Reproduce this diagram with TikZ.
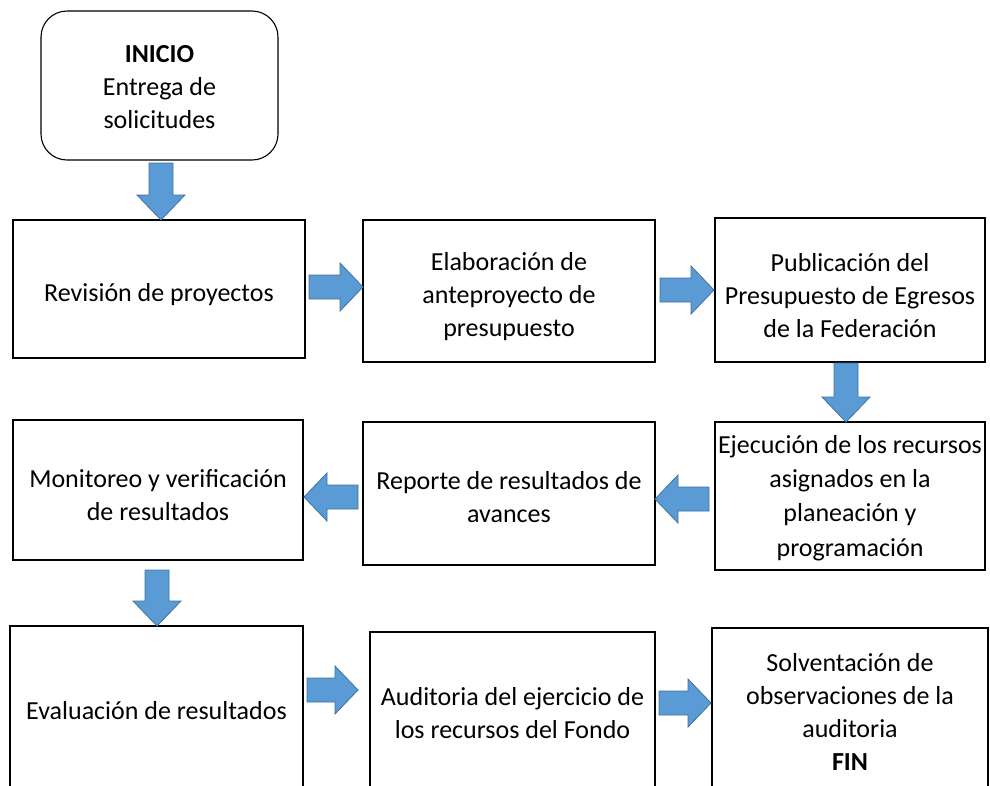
\documentclass[tikz,border=0pt]{standalone}
\usepackage{fontspec}
\setmainfont{Carlito}
\begin{document}
\begin{tikzpicture}[x=1pt,y=-1pt,
  box/.style={draw=black,line width=1.1pt,fill=white,inner sep=0pt},
  txt/.style={align=center,inner sep=0pt,font=\fontsize{26}{33}\selectfont},
  arr/.style={fill={rgb,255:red,91;green,155;blue,213},draw={rgb,255:red,65;green,113;blue,156},line width=0.8pt}]
\useasboundingbox (0,0) rectangle (990,785);
\clip (0,0) rectangle (990,785);
\node[box,rounded corners=26pt,minimum width=237,minimum height=149] (s) at (159.5,85.5) {};
\node[txt] (ts) at ([yshift=-2pt]s.center) {\textbf{INICIO}\\Entrega de\\solicitudes};
\node[box,minimum width=292,minimum height=138] (b1) at (159,289) {};
\node[txt] (t1) at ([yshift=-6pt]b1.center) {Revisión de proyectos};
\node[box,minimum width=292,minimum height=142] (b2) at (509,291) {};
\node[txt] (t2) at ([yshift=-6pt]b2.center) {Elaboración de\\anteproyecto de\\presupuesto};
\node[box,minimum width=270,minimum height=144] (b3) at (850,290) {};
\node[txt] (t3) at ([yshift=-6pt]b3.center) {Publicación del\\Presupuesto de Egresos\\de la Federación};
\node[box,minimum width=290,minimum height=140] (b4) at (158,490) {};
\node[txt] (t4) at ([yshift=-5pt]b4.center) {Monitoreo y verificación\\de resultados};
\node[box,minimum width=292,minimum height=143] (b5) at (509,493.5) {};
\node[txt] (t5) at ([yshift=-4pt]b5.center) {Reporte de resultados de\\avances};
\node[box,minimum width=270,minimum height=148] (b6) at (850,496) {};
\node[txt,font=\fontsize{26}{34.3}\selectfont] (t6) at ([yshift=-2pt]b6.center) {Ejecución de los recursos\\asignados en la\\planeación y\\programación};
\node[box,minimum width=293,minimum height=168] (b7) at (156.5,710) {};
\node[txt] (t7) at ([yshift=-1pt]b7.center) {Evaluación de resultados};
\node[box,minimum width=285,minimum height=160] (b8) at (512.5,712) {};
\node[txt] (t8) at ([yshift=-1pt]b8.center) {Auditoria del ejercicio de\\los recursos del Fondo};
\node[box,minimum width=276,minimum height=168] (b9) at (850,712) {};
\node[txt] (t9) at (b9.center) {Solventación de\\observaciones de la\\auditoria\\\textbf{FIN}};
% arrow macros: right (x1,x2,y), left, down (x,y1,y2)
\newcommand{\rarr}[3]{\draw[arr] ({#1},{#3-12}) -- ({#2-23},{#3-12}) -- ({#2-23},{#3-24}) -- ({#2},{#3}) -- ({#2-23},{#3+24}) -- ({#2-23},{#3+12}) -- ({#1},{#3+12}) -- cycle;}
\newcommand{\larr}[3]{\draw[arr] ({#1},{#3-12}) -- ({#2+23},{#3-12}) -- ({#2+23},{#3-24}) -- ({#2},{#3}) -- ({#2+23},{#3+24}) -- ({#2+23},{#3+12}) -- ({#1},{#3+12}) -- cycle;}
\newcommand{\darr}[3]{\draw[arr] ({#1-12},{#2}) -- ({#1-12},{#3-25}) -- ({#1-24},{#3-25}) -- ({#1},{#3}) -- ({#1+24},{#3-25}) -- ({#1+12},{#3-25}) -- ({#1+12},{#2}) -- cycle;}
\darr{161}{163}{220}
\rarr{309}{363}{287}
\rarr{660}{714}{290}
\darr{846}{363}{422}
\larr{709}{655}{499}
\larr{358}{304}{497}
\darr{157}{570}{626}
\rarr{307}{358}{690}
\rarr{659}{711}{703}
\end{tikzpicture}
\end{document}
